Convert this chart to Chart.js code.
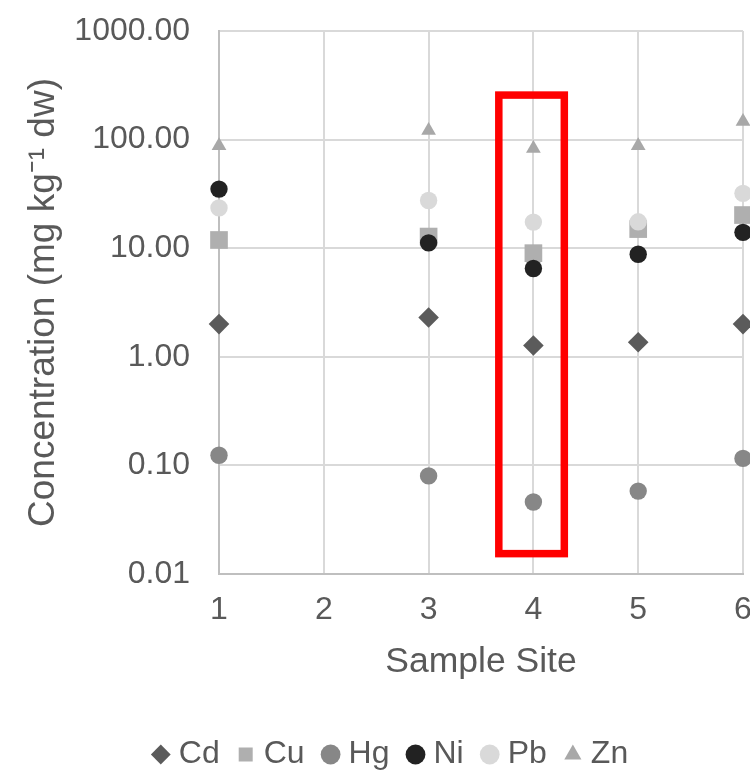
<!DOCTYPE html>
<html>
<head>
<meta charset="utf-8">
<title>Concentration by Sample Site</title>
<script src="https://cdn.jsdelivr.net/npm/chart.js@4.4.1/dist/chart.umd.min.js"></script>
<style>
    html, body { margin: 0; padding: 0; background: #ffffff; }
    canvas { display: block; }
</style>
</head>
<body>
<canvas id="myChart" width="750" height="772"></canvas>
<script>
// Chart data (mg/kg dw)
    const sites = [1, 3, 4, 5, 6];
    const cd = [2.0, 2.3, 1.27, 1.36, 2.0];
    const cu = [11.9, 12.8, 9.0, 15.0, 20.2];
    const hg = [0.124, 0.080, 0.046, 0.058, 0.116];
    const ni = [35, 11.2, 6.5, 8.8, 14.0];
    const pb = [23.5, 27.5, 17.4, 17.5, 32];
    const zn = [88, 121, 83, 88, 147];

    const xTicks = [1, 2, 3, 4, 5, 6];
    const yTicks = [0.01, 0.1, 1, 10, 100, 1000];

    // red box that marks site 4
    const boxX = [3.67, 4.295];
    const boxY = [0.0154, 257];
// End chart data

    const textColor = '#595959';
    const fontName = "'Liberation Sans', Arial, sans-serif";
    const padLeft = 37; // pushes the legend to the right, y axis width makes up for it

    // turn the arrays into x/y points
    function toPoints(values){
        const pts = [];
        for(let i=0; i<sites.length; i++){
            pts.push({x: sites[i], y: values[i]});
        }
        return pts;
    }

    // one scatter series, later metals drawn on top (lower order)
    function series(label, values, color, style, radius, order){
        return {
            label: label,
            data: toPoints(values),
            backgroundColor: color,
            borderColor: color,
            pointStyle: style,
            pointRadius: radius,
            pointBorderWidth: 0,
            showLine: false,
            clip: false,
            order: order
        };
    }

    // plugin for the red rectangle round site 4
    const redBox = {
        id: 'redBox',
        afterDatasetsDraw(chart){
            const xs = chart.scales.x;
            const ys = chart.scales.y;
            const ctx = chart.ctx;
            const l = xs.getPixelForValue(boxX[0]);
            const r = xs.getPixelForValue(boxX[1]);
            const t = ys.getPixelForValue(boxY[1]);
            const b = ys.getPixelForValue(boxY[0]);
            ctx.save();
            ctx.strokeStyle = '#ff0000';
            ctx.lineWidth = 7.5;
            ctx.strokeRect(l, t, r - l, b - t);
            ctx.restore();
        }
    };

    const ctx = document.getElementById('myChart').getContext('2d');
    const myChart = new Chart(ctx, {
        type: 'scatter',
        data: {
            datasets: [
                series('Cd', cd, '#5b5b5b', 'rectRot', 10.3, 6),
                series('Cu', cu, '#afafaf', 'rect', 12.5, 5),
                series('Hg', hg, '#878787', 'circle', 8.7, 4),
                series('Ni', ni, '#222222', 'circle', 8.7, 3),
                series('Pb', pb, '#d9d9d9', 'circle', 8.7, 2),
                series('Zn', zn, '#a8a8a8', 'triangle', 8.5, 1)
            ]
        },
        options: {
            responsive: false,
            animation: false,
            events: [],
            layout: {
                autoPadding: false, // let the site 6 marks run off the edge like the original
                padding: {top: 31, right: 0, bottom: -8.5, left: padLeft}
            },
            scales: {
                x: {
                    type: 'linear',
                    min: 1,
                    max: 6,
                    afterBuildTicks(scale){
                        scale.ticks = xTicks.map(v => ({value: v}));
                    },
                    afterFit(scale){
                        scale.height = 140.5;
                        scale.paddingRight = 7;
                    },
                    ticks: {
                        color: textColor,
                        padding: 17,
                        font: {family: fontName, size: 32}
                    },
                    grid: {
                        color: '#d9d9d9',
                        lineWidth: 2,
                        drawTicks: false
                    },
                    border: {color: '#bfbfbf', width: 2},
                    title: {
                        display: true,
                        text: 'Sample Site',
                        color: textColor,
                        font: {family: fontName, size: 35.5},
                        padding: {top: 0, bottom: 31}
                    }
                },
                y: {
                    type: 'logarithmic',
                    min: 0.01,
                    max: 1000,
                    afterBuildTicks(scale){
                        scale.ticks = yTicks.map(v => ({value: v}));
                    },
                    afterFit(scale){
                        scale.width = 219 - padLeft;
                        scale.paddingTop = 0;
                        scale.paddingBottom = 0;
                    },
                    ticks: {
                        color: textColor,
                        padding: 29,
                        font: {family: fontName, size: 32},
                        callback: function(value){
                            return Number(value).toFixed(2);
                        }
                    },
                    grid: {
                        color: '#d9d9d9',
                        lineWidth: 2,
                        drawTicks: false
                    },
                    border: {color: '#bfbfbf', width: 2},
                    title: {
                        display: true,
                        text: 'Concentration (mg kg\u207B\u00B9 dw)',
                        color: textColor,
                        font: {family: fontName, size: 37},
                        padding: {top: -15, bottom: 0}
                    }
                }
            },
            plugins: {
                tooltip: {enabled: false},
                legend: {
                    position: 'bottom',
                    labels: {
                        usePointStyle: true,
                        boxWidth: 4,
                        boxHeight: 14,
                        padding: 24,
                        color: textColor,
                        font: {family: fontName, size: 32},
                        sort: (a, b) => a.datasetIndex - b.datasetIndex
                    }
                }
            }
        },
        plugins: [redBox]
    });
</script>
</body>
</html>
